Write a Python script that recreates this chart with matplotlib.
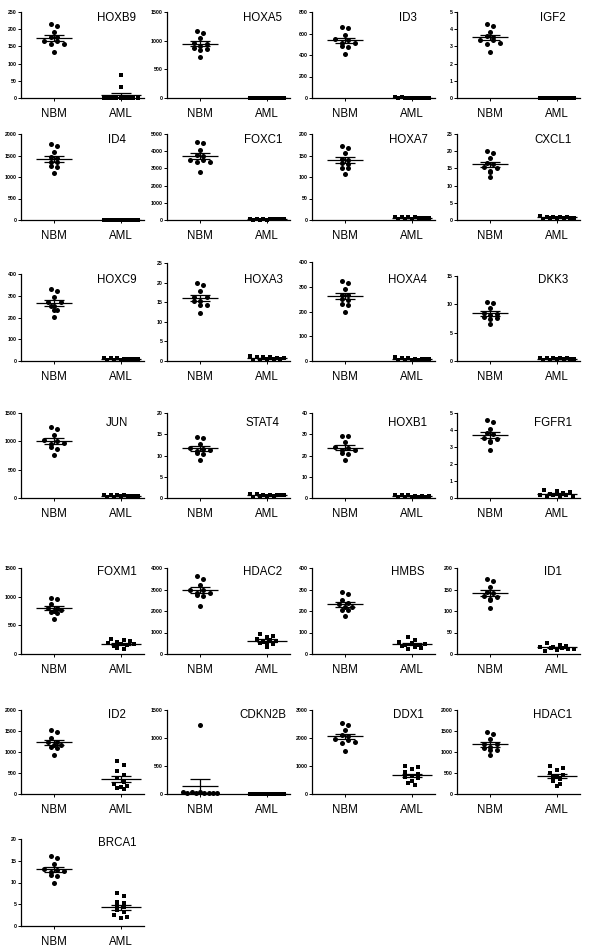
import numpy as np
import matplotlib
matplotlib.use("Agg")
import matplotlib.pyplot as plt

plt.rcParams['font.family'] = ['Liberation Sans', 'DejaVu Sans']

# ---------------- data ----------------
groups = ["NBM", "AML"]

genes = ["HOXB9", "HOXA5", "ID3", "IGF2",
         "ID4", "FOXC1", "HOXA7", "CXCL1",
         "HOXC9", "HOXA3", "HOXA4", "DKK3",
         "JUN", "STAT4", "HOXB1", "FGFR1",
         "FOXM1", "HDAC2", "HMBS", "ID1",
         "ID2", "CDKN2B", "DDX1", "HDAC1",
         "BRCA1"]

y_max = [250, 1500, 800, 5,
         2000, 5000, 200, 25,
         400, 25, 400, 15,
         1500, 20, 40, 5,
         1500, 4000, 400, 200,
         2000, 1500, 3000, 2000,
         20]
y_step = [50, 500, 200, 1,
          500, 1000, 50, 5,
          100, 5, 100, 5,
          500, 5, 10, 1,
          500, 1000, 100, 50,
          500, 500, 1000, 500,
          5]

HOXB9_NBM = [215, 210, 193, 178, 176, 166, 165, 158, 157, 133]
HOXB9_AML = [66, 33, 1, 1, 0.5, 0.5, 0.3, 0.2, 0.1, 0.1, 0.1]
HOXA5_NBM = [1160, 1130, 1040, 960, 950, 900, 880, 850, 840, 710]
HOXA5_AML = [8, 6, 5, 4, 3, 3, 2, 2, 1, 1, 1]
ID3_NBM = [665, 650, 590, 545, 540, 510, 510, 480, 475, 405]
ID3_AML = [6, 5, 4, 4, 3, 3, 2, 2, 1, 1, 1]
IGF2_NBM = [4.3, 4.2, 3.85, 3.6, 3.55, 3.35, 3.35, 3.2, 3.15, 2.65]
IGF2_AML = [0.02, 0.02, 0.015, 0.01, 0.01, 0.01, 0.008, 0.006, 0.005, 0.004, 0.003]
ID4_NBM = [1765, 1720, 1580, 1460, 1450, 1360, 1355, 1245, 1240, 1090]
ID4_AML = [9, 8, 7, 6, 5, 4, 4, 3, 2, 2, 1]
FOXC1_NBM = [4550, 4470, 4070, 3780, 3700, 3510, 3500, 3400, 3390, 2810]
FOXC1_AML = [70, 60, 55, 50, 45, 40, 35, 30, 25, 20, 15]
HOXA7_NBM = [172, 168, 155, 142, 140, 132, 131, 122, 120, 108]
HOXA7_AML = [8, 7, 6, 6, 5, 5, 4, 4, 3, 3, 2]
CXCL1_NBM = [20, 19.5, 18, 16.5, 16.2, 15.3, 15.2, 14.2, 14, 12.5]
CXCL1_AML = [1.2, 1.0, 0.9, 0.9, 0.8, 0.7, 0.7, 0.6, 0.5, 0.5, 0.4]
HOXC9_NBM = [330, 320, 295, 272, 270, 255, 252, 235, 233, 203]
HOXC9_AML = [15, 14, 12, 11, 10, 9, 8, 7, 6, 5, 4]
HOXA3_NBM = [19.9, 19.4, 17.8, 16.4, 16.3, 15.4, 15.3, 14.4, 14.3, 12.3]
HOXA3_AML = [1.2, 1.1, 1.0, 0.9, 0.8, 0.7, 0.6, 0.5, 0.4, 0.3, 0.3]
HOXA4_NBM = [325, 316, 290, 268, 265, 250, 248, 230, 228, 200]
HOXA4_AML = [15, 14, 12, 10, 9, 8, 7, 6, 5, 4, 3]
DKK3_NBM = [10.5, 10.2, 9.3, 8.5, 8.3, 8.1, 7.7, 7.6, 7.5, 6.5]
DKK3_AML = [0.6, 0.55, 0.5, 0.45, 0.45, 0.4, 0.35, 0.3, 0.3, 0.25, 0.2]
JUN_NBM = [1250, 1210, 1110, 1020, 1000, 975, 960, 900, 870, 760]
JUN_AML = [60, 55, 50, 45, 42, 40, 38, 35, 30, 25, 20]
STAT4_NBM = [14.4, 14.1, 12.8, 11.8, 11.6, 11.2, 11.0, 10.6, 10.4, 8.9]
STAT4_AML = [0.9, 0.85, 0.8, 0.7, 0.7, 0.6, 0.6, 0.5, 0.45, 0.4, 0.3]
HOXB1_NBM = [29.3, 29.0, 26.5, 24.0, 23.5, 22.8, 22.5, 21.0, 20.8, 17.9]
HOXB1_AML = [1.6, 1.4, 1.2, 1.0, 0.9, 0.8, 0.7, 0.6, 0.5, 0.4, 0.3]
FGFR1_NBM = [4.6, 4.5, 4.05, 3.8, 3.75, 3.55, 3.5, 3.35, 3.3, 2.8]
FGFR1_AML = [0.45, 0.4, 0.35, 0.3, 0.25, 0.2, 0.18, 0.15, 0.12, 0.1, 0.08]
FOXM1_NBM = [970, 955, 870, 810, 800, 760, 750, 730, 720, 610]
FOXM1_AML = [265, 240, 220, 205, 190, 180, 170, 155, 140, 100, 80]
HDAC2_NBM = [3620, 3500, 3230, 3000, 2960, 2850, 2830, 2740, 2720, 2240]
HDAC2_AML = [950, 820, 780, 720, 650, 620, 580, 520, 480, 400, 310]
HMBS_NBM = [288, 280, 252, 235, 232, 220, 218, 206, 203, 177]
HMBS_AML = [78, 65, 58, 52, 47, 44, 40, 36, 32, 28, 24]
ID1_NBM = [175, 170, 156, 145, 142, 135, 133, 127, 125, 108]
ID1_AML = [26, 22, 19, 17, 16, 15, 14, 12, 11, 9, 8]
ID2_NBM = [1520, 1480, 1340, 1250, 1230, 1170, 1160, 1110, 1100, 940]
ID2_AML = [790, 700, 540, 460, 370, 290, 240, 190, 160, 140, 120]
CDKN2B_NBM = [1230, 35, 30, 28, 25, 22, 20, 18, 15, 12]
CDKN2B_AML = [6, 5, 4, 4, 3, 3, 2, 2, 1, 1, 1]
DDX1_NBM = [2530, 2470, 2270, 2100, 2060, 1950, 1930, 1850, 1830, 1550]
DDX1_AML = [1000, 950, 880, 780, 700, 650, 600, 560, 480, 380, 310]
HDAC1_NBM = [1480, 1430, 1300, 1200, 1180, 1110, 1100, 1050, 1040, 920]
HDAC1_AML = [660, 620, 580, 500, 460, 420, 400, 350, 300, 250, 200]
BRCA1_NBM = [16.0, 15.6, 14.3, 13.2, 12.9, 12.6, 12.5, 11.8, 11.6, 9.8]
BRCA1_AML = [7.5, 6.8, 5.6, 5.2, 4.6, 4.3, 3.6, 3.3, 2.6, 2.0, 1.8]

data = {g: (globals()[g + "_NBM"], globals()[g + "_AML"]) for g in genes}

# ---------------- layout (pixels) ----------------
W, H = 600, 949
col_left = [21, 167, 312, 457]
ax_w = 123
row_top = [12, 134, 268, 413, 568, 710, 839]
row_bot = [98, 220, 361, 498, 654, 794, 926]
row3_top = [274, 263, 262, 276]
label_y = [18, 140, 280, 423, 572, 715, 843]
XLIM = (-0.5, 1.35)

fig = plt.figure(figsize=(W / 100, H / 100), dpi=100)


def swarm(vals, ypx, xpx, bin_px=4.0, sp_px=6.5, max_half_px=17.0):
    """Prism-like column scatter: points falling in the same vertical bin
    are spread side by side around the column centre."""
    vals = np.asarray(vals, float)
    order = np.argsort(-vals, kind="stable")
    offs = np.zeros(len(vals))
    grp = []
    bins = []
    for i in order:
        if grp and (vals[grp[0]] - vals[i]) * ypx > bin_px:
            bins.append(grp)
            grp = []
        grp.append(i)
    if grp:
        bins.append(grp)
    for grp in bins:
        n = len(grp)
        if n == 1:
            continue
        sp = min(sp_px, 2 * max_half_px / (n - 1))
        pos = (np.arange(n) - (n - 1) / 2) * sp
        # alternate left/right so the row stays level
        slots = list(range(0, n, 2)) + list(range(1, n, 2))[::-1]
        for k, i in enumerate(grp):
            offs[i] = pos[slots[k]] / xpx
    return offs


for idx, g in enumerate(genes):
    r, c = divmod(idx, 4)
    top = row3_top[c] if r == 2 else row_top[r]
    bot = row_bot[r]
    left = col_left[c]
    ax = fig.add_axes([left / W, 1 - bot / H, ax_w / W, (bot - top) / H])
    ymax = y_max[idx]
    ax.set_ylim(0, ymax)
    ax.set_xlim(*XLIM)
    ypx = (bot - top) / ymax
    xpx = ax_w / (XLIM[1] - XLIM[0])
    nbm, aml = data[g]
    for gi, (vals, mk, s, hw) in enumerate([(nbm, 'o', 13, 0.27), (aml, 's', 11, 0.30)]):
        vals = np.asarray(vals, float)
        offs = swarm(vals, ypx, xpx)
        ax.scatter(gi + offs, vals, marker=mk, s=s, color='black',
                   linewidths=0, clip_on=False, zorder=3)
        m = vals.mean()
        sem = vals.std(ddof=1) / np.sqrt(len(vals))
        ax.hlines(m, gi - hw, gi + hw, color='black', lw=0.9, zorder=4)
        ax.errorbar([gi], [m], yerr=[sem], fmt='none', ecolor='black',
                    elinewidth=0.9, capsize=7, capthick=0.9, zorder=4)
    for sp in ['top', 'right']:
        ax.spines[sp].set_visible(False)
    for sp in ['left', 'bottom']:
        ax.spines[sp].set_linewidth(0.9)
    ax.set_yticks(np.arange(0, ymax + y_step[idx] * 0.01, y_step[idx]))
    ax.set_yticklabels([f"{v:g}" for v in ax.get_yticks()])
    ax.tick_params(axis='y', labelsize=3.8, length=2, width=0.7, pad=1)
    for t in ax.get_yticklabels():
        t.set_fontweight('bold')
    ax.set_xticks([0, 1])
    ax.set_xticklabels(groups)
    ax.tick_params(axis='x', labelsize=8.3, length=2, width=0.7, pad=5)
    ax.patch.set_alpha(0)
    fig.text((left + 0.78 * ax_w) / W, 1 - label_y[r] / H, g,
             ha='center', va='center', fontsize=8.3)

fig.savefig("out.png", dpi=100, facecolor='white')
